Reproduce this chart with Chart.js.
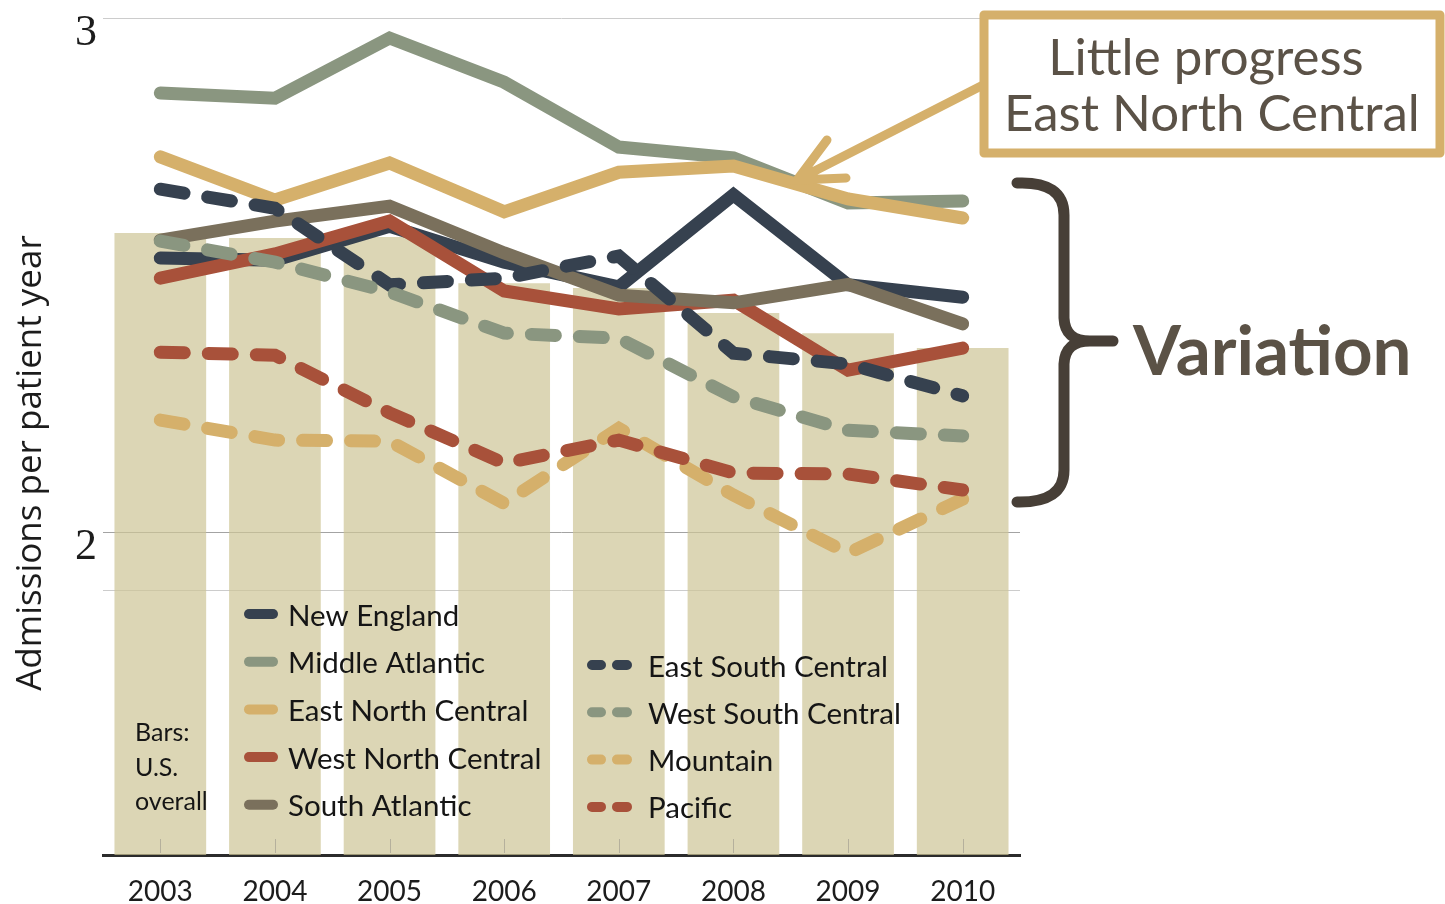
<!DOCTYPE html>
<html>
<head>
<meta charset="utf-8">
<script src="https://cdn.jsdelivr.net/npm/chart.js@4.4.1/dist/chart.umd.min.js"></script>
<style>
  html, body { margin: 0; padding: 0; background: #fff; }
  #wrap { width: 1445px; height: 904px; }
</style>
</head>
<body>
<div id="wrap"><canvas id="chart" width="1445" height="904"></canvas></div>
<script>
// ---- data ----
const years = ["2003", "2004", "2005", "2006", "2007", "2008", "2009", "2010"];
const usOverall = [2.582, 2.572, 2.574, 2.484, 2.475, 2.426, 2.387, 2.358];

const newEngland = [2.533, 2.529, 2.595, 2.525, 2.477, 2.656, 2.481, 2.457];
const middleAtlantic = [2.854, 2.844, 2.961, 2.875, 2.749, 2.728, 2.640, 2.644];
const eastNorthCentral = [2.730, 2.646, 2.718, 2.623, 2.700, 2.712, 2.648, 2.611];
const westNorthCentral = [2.494, 2.541, 2.605, 2.469, 2.434, 2.451, 2.315, 2.358];
const southAtlantic = [2.568, 2.605, 2.634, 2.543, 2.461, 2.446, 2.482, 2.405];
const eastSouthCentral = [2.667, 2.630, 2.481, 2.494, 2.537, 2.348, 2.327, 2.265];
const westSouthCentral = [2.566, 2.525, 2.467, 2.387, 2.377, 2.263, 2.198, 2.187];
const mountain = [2.218, 2.179, 2.177, 2.056, 2.202, 2.072, 1.959, 2.064];
const pacific = [2.350, 2.344, 2.232, 2.134, 2.179, 2.115, 2.113, 2.082];

const yTicks = [1.887, 2, 3];
const yLabelled = [2, 3];

const NAVY = "#36414f", SAGE = "#8a9680", TAN = "#d5b06b", RUST = "#a8513a", TAUPE = "#7a705c";

function region(label, data, color, dashed, order) {
  return {
    type: "line",
    label,
    data,
    borderColor: color,
    backgroundColor: color,
    borderWidth: 13,
    borderDash: dashed ? [24, 24] : [],
    borderCapStyle: "round",
    borderJoinStyle: "miter",
    pointRadius: 0,
    tension: 0,
    fill: false,
    order,
    dashed,
  };
}

/* annotations: axis title, legend, note box, brace */
const decorations = {
  id: "decorations",
  afterDraw(chart) {
    const ctx = chart.ctx;
    const x = chart.scales.x;
    const area = chart.chartArea;
    ctx.save();

    // y axis title
    ctx.save();
    ctx.translate(31, 463);
    ctx.rotate(-Math.PI / 2);
    ctx.font = "35px 'Open Sans'";
    ctx.fillStyle = "#1c1c1c";
    ctx.textAlign = "center";
    ctx.textBaseline = "middle";
    ctx.fillText("Admissions per patient year", 0, 0);
    ctx.restore();

    // little tick marks at each year, inside the plot
    ctx.strokeStyle = "#b5b09c";
    ctx.lineWidth = 1;
    years.forEach((_, i) => {
      const px = Math.round(x.getPixelForValue(i)) + 0.5;
      ctx.beginPath();
      ctx.moveTo(px, area.bottom - 16);
      ctx.lineTo(px, area.bottom - 2);
      ctx.stroke();
    });

    // legend
    const lines = chart.data.datasets.filter((d) => d.type === "line");
    ctx.font = "29.5px Lato";
    ctx.textBaseline = "middle";
    ctx.fillStyle = "#151515";
    ctx.lineCap = "round";
    ctx.lineWidth = 10;
    const solid = lines.filter((d) => !d.dashed);
    const dash = lines.filter((d) => d.dashed);
    solid.forEach((d, i) => {
      const y = 614 + i * 47.7;
      ctx.strokeStyle = d.borderColor;
      ctx.beginPath();
      ctx.moveTo(249, y);
      ctx.lineTo(273, y);
      ctx.stroke();
      ctx.fillText(d.label, 288, y + 2);
    });
    dash.forEach((d, i) => {
      const y = 665 + i * 47.3;
      ctx.strokeStyle = d.borderColor;
      ctx.beginPath();
      ctx.moveTo(592, y);
      ctx.lineTo(601, y);
      ctx.moveTo(617, y);
      ctx.lineTo(627, y);
      ctx.stroke();
      ctx.fillText(d.label, 648, y + 2);
    });

    ctx.font = "25px Lato";
    ["Bars:", "U.S.", "overall"].forEach((t, i) => ctx.fillText(t, 135, 733 + i * 34.5));

    // arrow to East North Central
    ctx.strokeStyle = TAN;
    ctx.lineWidth = 9;
    ctx.beginPath();
    ctx.moveTo(985, 84);
    ctx.lineTo(797, 180);
    ctx.moveTo(827, 140);
    ctx.lineTo(797, 180);
    ctx.lineTo(846, 178);
    ctx.stroke();

    // note box
    ctx.fillStyle = "#fff";
    ctx.lineJoin = "round";
    ctx.fillRect(984, 15, 456, 138);
    ctx.strokeRect(984, 15, 456, 138);
    ctx.fillStyle = "#5b5247";
    ctx.font = "51px Lato";
    ctx.textAlign = "center";
    ctx.textBaseline = "alphabetic";
    ctx.fillText("Little progress", 1206, 75);
    ctx.fillText("East North Central", 1212, 131);

    // brace
    ctx.strokeStyle = "#473f37";
    ctx.lineWidth = 11;
    ctx.lineJoin = "round";
    ctx.beginPath();
    ctx.moveTo(1017, 183);
    ctx.quadraticCurveTo(1064, 181, 1064, 215);
    ctx.lineTo(1064, 318);
    ctx.quadraticCurveTo(1065, 341, 1090, 341);
    ctx.quadraticCurveTo(1065, 341, 1064, 364);
    ctx.lineTo(1064, 470);
    ctx.quadraticCurveTo(1064, 503, 1017, 502);
    ctx.moveTo(1080, 341);
    ctx.lineTo(1113, 341);
    ctx.stroke();

    ctx.fillStyle = "#5b5246";
    ctx.font = "bold 69px Lato";
    ctx.textAlign = "left";
    ctx.fillText("Variation", 1133, 375);
    ctx.restore();
  },
};

new Chart(document.getElementById("chart"), {
  type: "bar",
  data: {
    labels: years,
    datasets: [
      region("New England", newEngland, NAVY, false, 9),
      region("Middle Atlantic", middleAtlantic, SAGE, false, 8),
      region("East North Central", eastNorthCentral, TAN, false, 7),
      region("West North Central", westNorthCentral, RUST, false, 6),
      region("South Atlantic", southAtlantic, TAUPE, false, 5),
      region("East South Central", eastSouthCentral, NAVY, true, 4),
      region("West South Central", westSouthCentral, SAGE, true, 3),
      region("Mountain", mountain, TAN, true, 2),
      region("Pacific", pacific, RUST, true, 1),
      {
        type: "bar",
        label: "U.S. overall",
        data: usOverall,
        backgroundColor: "rgba(205,196,150,0.7)",
        borderWidth: 0,
        categoryPercentage: 1,
        barPercentage: 0.8,
        order: 10,
      },
    ],
  },
  options: {
    responsive: false,
    animation: false,
    devicePixelRatio: 1,
    layout: { padding: { top: 18, right: 425, left: 0, bottom: 0 } },
    plugins: { legend: { display: false }, tooltip: { enabled: false } },
    scales: {
      x: {
        grid: { display: false },
        border: { display: true, color: "#2b2b2b", width: 3 },
        ticks: { font: { family: "Lato", size: 28 }, color: "#1c1c1c", padding: 12 },
        afterFit: (s) => {
          s.height = 49;
          s.paddingLeft = 0;
          s.paddingRight = 0;
        },
      },
      y: {
        min: 1.372,
        max: 3,
        afterBuildTicks: (s) => {
          s.ticks = yTicks.map((v) => ({ value: v }));
        },
        afterFit: (s) => {
          s.width = 103;
          s.paddingTop = 0;
          s.paddingBottom = 0;
        },
        border: { display: false },
        grid: {
          color: (c) => (c.tick && c.tick.value === 2 ? "#a3a3a3" : "#cccccc"),
          lineWidth: 1,
          drawTicks: false,
        },
        ticks: {
          font: { family: "Liberation Sans Narrow", size: 44 },
          color: "#1c1c1c",
          padding: 6,
          labelOffset: 15,
          callback: (v) => (yLabelled.includes(v) ? String(v) : ""),
        },
      },
    },
  },
  plugins: [decorations],
});
</script>
</body>
</html>
